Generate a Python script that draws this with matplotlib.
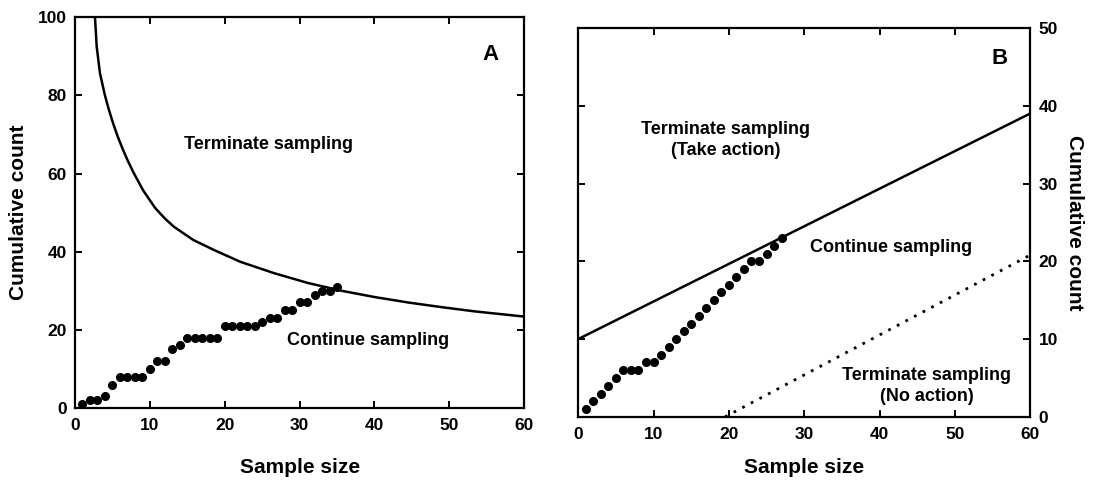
import matplotlib
matplotlib.use('Agg')
import matplotlib.pyplot as plt

# panel A: observed cumulative counts and the stop line
a_n = list(range(1, 36))
a_count = [1, 2, 2, 3, 6, 8, 8, 8, 8, 10, 12, 12, 15, 16, 18, 18, 18, 18, 18,
           21, 21, 21, 21, 21, 22, 23, 23, 25, 25, 27, 27, 29, 30, 30, 31]
a_stop_x = [2.67, 2.9, 3.34, 4.0, 4.5, 5.1, 5.7, 6.3, 7.0, 7.8, 9.1, 10.7,
            12.0, 13.2, 15.8, 18.6, 22.1, 26.6, 31.1, 35.6, 40, 44.5, 49,
            53.5, 60]
a_stop_y = [100, 92.5, 85.6, 80, 76.5, 72.8, 69.5, 66.6, 63.5, 60.3, 55.7,
            51.2, 48.5, 46.4, 43.0, 40.4, 37.4, 34.5, 32, 30, 28.4, 27, 25.8,
            24.7, 23.4]

# panel B: observed cumulative counts and the two decision lines
b_n = list(range(1, 28))
b_count = [1, 2, 3, 4, 5, 6, 6, 6, 7, 7, 8, 9, 10, 11, 12, 13, 14, 15, 16,
           17, 18, 19, 20, 20, 21, 22, 23]
b_upper_x = [0, 60]
b_upper_y = [10, 39]
b_lower_x = [19.5, 60]
b_lower_y = [0, 20.8]

xticks = [0, 10, 20, 30, 40, 50, 60]

plt.rcParams['font.family'] = ['Liberation Sans', 'DejaVu Sans']
plt.rcParams['font.weight'] = 'bold'

fig = plt.figure(figsize=(10.93, 4.91), dpi=100)
axA = fig.add_axes([0.0686, 0.169, 0.411, 0.796])
axB = fig.add_axes([0.529, 0.151, 0.4135, 0.792])

for ax in (axA, axB):
    for s in ax.spines.values():
        s.set_linewidth(1.6)
    ax.tick_params(direction='in', length=5, width=1.4, top=True, right=True,
                   labelsize=12.5)
    ax.tick_params(axis='x', pad=7)
    ax.tick_params(axis='y', pad=6)
    ax.set_xlim(0, 60)
    ax.set_xticks(xticks)

# A
axA.plot(a_stop_x, a_stop_y, color='black', lw=1.8)
axA.plot(a_n, a_count, 'o', color='black', ms=5.5)
axA.set_ylim(0, 100)
axA.set_yticks([0, 20, 40, 60, 80, 100])
axA.set_xlabel('Sample size', fontsize=15, fontweight='bold', labelpad=18)
axA.set_ylabel('Cumulative count', fontsize=15, fontweight='bold', labelpad=7)
axA.text(25.8, 67.4, 'Terminate sampling', ha='center', va='center',
         fontsize=13, fontweight='bold')
axA.text(39.2, 17.2, 'Continue sampling', ha='center', va='center',
         fontsize=13, fontweight='bold')
axA.text(55.5, 90.5, 'A', ha='center', va='center', fontsize=16,
         fontweight='bold')

# B
axB.plot(b_upper_x, b_upper_y, color='black', lw=1.8)
axB.plot(b_lower_x, b_lower_y, color='black', lw=2, linestyle=(0, (1, 2.5)))
axB.plot(b_n, b_count, 'o', color='black', ms=5.5)
axB.set_ylim(0, 50)
axB.set_yticks([0, 10, 20, 30, 40, 50])
axB.tick_params(labelleft=False, labelright=True)
axB.yaxis.set_label_position('right')
axB.set_ylabel('Cumulative count', fontsize=15, fontweight='bold',
               rotation=270, labelpad=19)
axB.set_xlabel('Sample size', fontsize=15, fontweight='bold', labelpad=12)
axB.text(19.6, 35.6, 'Terminate sampling\n(Take action)', ha='center',
         va='center', fontsize=13, fontweight='bold', linespacing=1.3)
axB.text(41.6, 21.8, 'Continue sampling', ha='center', va='center',
         fontsize=13, fontweight='bold')
axB.text(46.3, 4.0, 'Terminate sampling\n(No action)', ha='center',
         va='center', fontsize=13, fontweight='bold', linespacing=1.3)
axB.text(55.9, 46.1, 'B', ha='center', va='center', fontsize=16,
         fontweight='bold')

fig.savefig('out.png', dpi=100)
